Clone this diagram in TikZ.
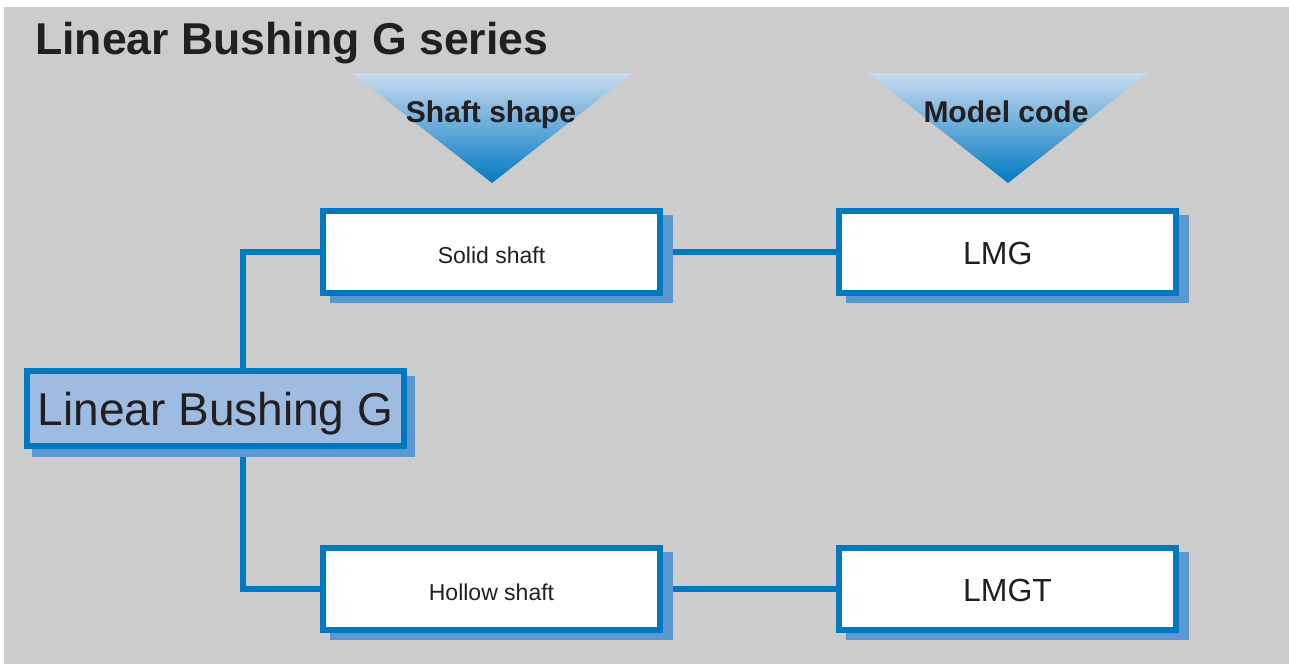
\documentclass[tikz,border=0pt]{standalone}
\usepackage{fontspec}
\setmainfont{Liberation Sans}
\usetikzlibrary{shadows}
\definecolor{bgray}{HTML}{CCCCCC}
\definecolor{kblue}{HTML}{0079C1}
\definecolor{shblue}{HTML}{5B97D0}
\definecolor{lfill}{HTML}{9EBCE2}
\definecolor{tritop}{HTML}{CADBF0}
\definecolor{ink}{HTML}{231F20}
\pgfdeclarelayer{bglayer}
\pgfdeclarelayer{linelayer}
\pgfsetlayers{bglayer,linelayer,main}
\begin{document}
\begin{tikzpicture}[x=1pt,y=-1pt,
  boxbase/.style={draw=kblue, line width=6pt, fill=white, inner sep=0pt,
    minimum width=337pt, minimum height=82pt, text=ink},
  sh/.style 2 args={general shadow={fill=shblue, draw=shblue, line width=6pt,
    shadow xshift=#1, shadow yshift=#2}},
  box/.style={boxbase, sh={10pt}{-7pt}},
  smalltext/.style={font=\fontsize{23}{23}\selectfont, text height=22pt, text depth=0pt},
  codetext/.style={font=\fontsize{32}{32}\selectfont, text height=24pt, text depth=0pt},
  tritext/.style={font=\bfseries\fontsize{30}{30}\selectfont, text=ink, inner sep=0pt, anchor=base},
  tri/.style={top color=tritop, bottom color=kblue, draw=none},
  conn/.style={draw=kblue, line width=6pt, line join=miter}
]
\useasboundingbox (0,0) rectangle (1289,664);
\begin{pgfonlayer}{bglayer}
\fill[bgray] (4,7) rectangle (1289,664);
\end{pgfonlayer}

\node[font=\bfseries\fontsize{44.6}{48}\selectfont, text=ink, inner sep=0pt, anchor=base west] (title) at (35,54) {Linear Bushing G series};

\shade[tri] (352,73) -- (632,73) -- (492,183) -- cycle;
\shade[tri] (868,73) -- (1148,73) -- (1008,183) -- cycle;
\node[tritext] (h1) at (491,122) {Shaft shape};
\node[tritext] (h2) at (1006,122) {Model code};

\node[boxbase, sh={8pt}{-8pt}, fill=lfill, minimum width=377pt, minimum height=75pt,
  font=\fontsize{46}{46}\selectfont, text height=33pt, text depth=0pt] (lbg) at (215.5,408.5) {Linear Bushing G};

\node[box, smalltext] (solid) at (491.5,252) {Solid shaft};
\node[box, smalltext] (hollow) at (491.5,589) {Hollow shaft};
\node[box, codetext] (lmg) at (1007.5,252) {LMG\phantom{T}};
\node[box, codetext] (lmgt) at (1007.5,589) {LMGT};

\coordinate (spine) at (243,0);
\begin{pgfonlayer}{linelayer}
\draw[conn] (lbg.north -| spine) |- (solid.west);
\draw[conn] (lbg.south -| spine) |- (hollow.west);
\draw[conn] (solid.east) -- (lmg.west);
\draw[conn] (hollow.east) -- (lmgt.west);
\end{pgfonlayer}
\end{tikzpicture}
\end{document}
